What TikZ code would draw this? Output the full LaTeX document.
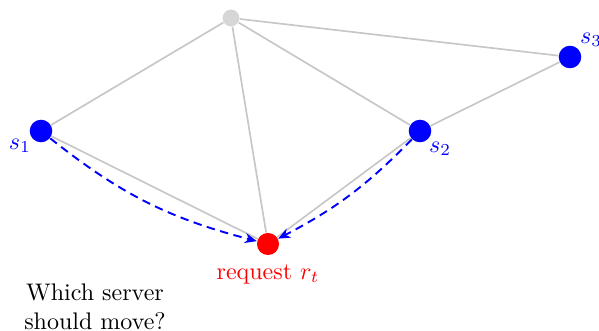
\documentclass[tikz,border=0pt]{standalone}
\usetikzlibrary{arrows.meta}
\begin{document}
\begin{tikzpicture}[x=0.4167pt,y=0.4167pt,
  server/.style={circle,fill=blue,inner sep=0pt,minimum size=9.4pt},
  hub/.style={circle,fill=black!16,inner sep=0pt,minimum size=7pt},
  req/.style={circle,fill=red,inner sep=0pt,minimum size=9.2pt},
  edge/.style={draw=black!22,line width=0.7pt},
  move/.style={draw=blue,line width=0.8pt,dash pattern=on 3.5pt off 2.3pt,-{Stealth[length=5pt,width=4.2pt]}},
  lbl/.style={text=blue,inner sep=0pt}]
\useasboundingbox (0,0) rectangle (599,331);
% graph vertices
\node[hub] (h) at (231,313) {};
\node[server] (s1) at (41,200) {};
\node[server] (s2) at (420,200) {};
\node[server] (s3) at (570,274) {};
\node[req] (r) at (268,87) {};
% graph edges
\draw[edge] (h) -- (s1);
\draw[edge] (h) -- (r);
\draw[edge] (h) -- (s2);
\draw[edge] (h) -- (s3);
\draw[edge] (s1) -- (r);
\draw[edge] (s2) -- (r);
\draw[edge] (s2) -- (s3);
% candidate moves
\draw[move] (s1) to[bend right=12] (r);
\draw[move] (s2) to[bend left=9] (r);
% labels
\node[lbl] (l1) at (20,185) {$s_1$};
\node[lbl] (l2) at (440,182) {$s_2$};
\node[lbl] (l3) at (591,291) {$s_3$};
\node[text=red] (lr) at (268,57) {request $r_t$};
\node[align=center] (q) at (95,24) {Which server\\should move?};
\end{tikzpicture}
\end{document}
